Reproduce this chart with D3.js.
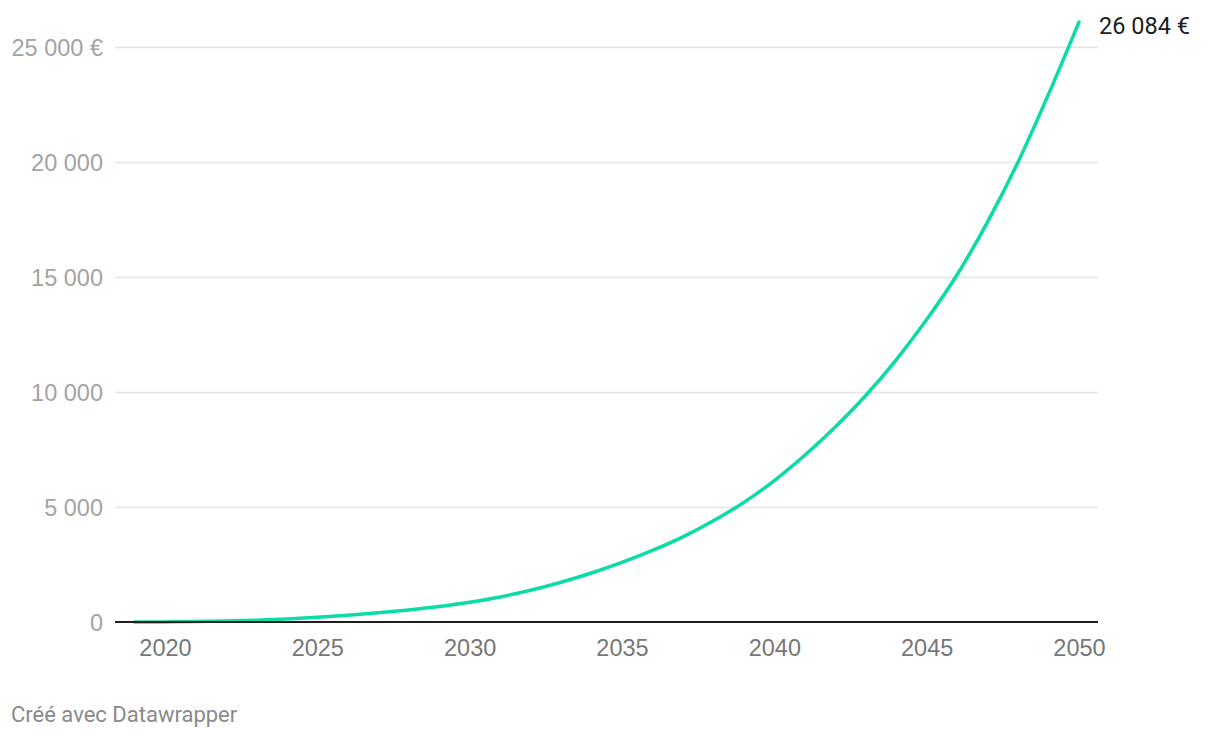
<!DOCTYPE html>
<html>
<head>
<meta charset="utf-8">
<script src="https://cdn.jsdelivr.net/npm/d3@7"></script>
<style>
    body { margin: 0; background: #fff; }
    svg { display: block; font-family: Roboto, "Noto Sans", sans-serif; }
</style>
</head>
<body>
<div id="chart"></div>
<script>
/* ---------------------- Data ---------------------- */
var years = [2019, 2020, 2021, 2022, 2023, 2024, 2025, 2026, 2027, 2028,
             2029, 2030, 2031, 2032, 2033, 2034, 2035, 2036, 2037, 2038,
             2039, 2040, 2041, 2042, 2043, 2044, 2045, 2046, 2047, 2048,
             2049, 2050];
var values = [0, 5, 18, 42, 80, 133, 203, 291, 398, 526,
              676, 860, 1090, 1380, 1730, 2130, 2590, 3110, 3700, 4400,
              5200, 6150, 7250, 8480, 9850, 11400, 13150, 15100, 17400, 20000,
              22950, 26084];
var yTicks = [0, 5000, 10000, 15000, 20000, 25000];
var yTickLabels = ["0", "5 000", "10 000", "15 000", "20 000", "25 000 €"];
var xTicks = [2020, 2025, 2030, 2035, 2040, 2045, 2050];
var endLabel = "26 084 €";
var footer = "Créé avec Datawrapper";

var colors = {line: "#0bdba6", grid: "#e4e4e4", axis: "#1d1d1d", yText: "#a3a3a3", xText: "#777777", label: "#1d1d1d", footer: "#8a8a8a"};

/* ---------------------- Layout ---------------------- */
var size = {w: 1220, h: 738};
var plot = {left: 115, right: 1098, top: 47, bottom: 622};

var svg = d3.select("#chart")
    .append("svg")
    .attr("width", size.w)
    .attr("height", size.h);

// Scales
var xScale = d3.scaleLinear()
    .domain([2019, 2050])
    .range([134.5, 1079]);

var yScale = d3.scaleLinear()
    .domain([0, 25000])
    .range([plot.bottom, plot.top]);

var data = years.map((y, i) => ({year: y, value: values[i]}));

/* ---------------------- Grid + y axis ---------------------- */
var yAxis = d3.axisLeft(yScale)
    .tickValues(yTicks)
    .tickSize(-(plot.right - plot.left))
    .tickPadding(12)
    .tickFormat((d, i) => yTickLabels[i]);

var gy = svg.append("g")
    .attr("class", "y-axis")
    .attr("transform", `translate(${plot.left}, 0)`)
    .call(yAxis);

gy.select(".domain").remove();
gy.selectAll(".tick line")
    .attr("stroke", colors.grid)
    .attr("stroke-width", 1.5)
    .attr("stroke-opacity", d => d === 0 ? 0 : 1);
gy.selectAll(".tick text")
    .attr("fill", colors.yText)
    .attr("font-size", 23.5)
    .attr("x", -12)
    .attr("dy", "0.36em");

/* ---------------------- x axis ---------------------- */
var xAxis = d3.axisBottom(xScale)
    .tickValues(xTicks)
    .tickSize(0)
    .tickPadding(17)
    .tickFormat(d3.format("d"));

var gx = svg.append("g")
    .attr("class", "x-axis")
    .attr("transform", `translate(0, ${plot.bottom})`)
    .call(xAxis);

gx.select(".domain").remove();
gx.selectAll(".tick text")
    .attr("fill", colors.xText)
    .attr("font-size", 23.5)
    .attr("dy", "0.71em");

/* ---------------------- Line ---------------------- */
var line = d3.line()
    .x(d => xScale(d.year))
    .y(d => yScale(d.value))
    .curve(d3.curveMonotoneX);

svg.append("path")
    .datum(data)
    .attr("d", line)
    .attr("fill", "none")
    .attr("stroke", colors.line)
    .attr("stroke-width", 3.5)
    .attr("stroke-linecap", "round")
    .attr("stroke-linejoin", "round");

// baseline on top of the line
svg.append("line")
    .attr("x1", plot.left)
    .attr("x2", plot.right)
    .attr("y1", yScale(0))
    .attr("y2", yScale(0))
    .attr("stroke", colors.axis)
    .attr("stroke-width", 2);

// End value label
var last = data[data.length - 1];
svg.append("text")
    .attr("x", xScale(last.year) + 20)
    .attr("y", yScale(last.value) + 12)
    .attr("font-size", 23.5)
    .attr("fill", colors.label)
    .text(endLabel);

// Footer
svg.append("text")
    .attr("x", 11)
    .attr("y", 722)
    .attr("font-size", 22)
    .attr("fill", colors.footer)
    .text(footer);
</script>
</body>
</html>
